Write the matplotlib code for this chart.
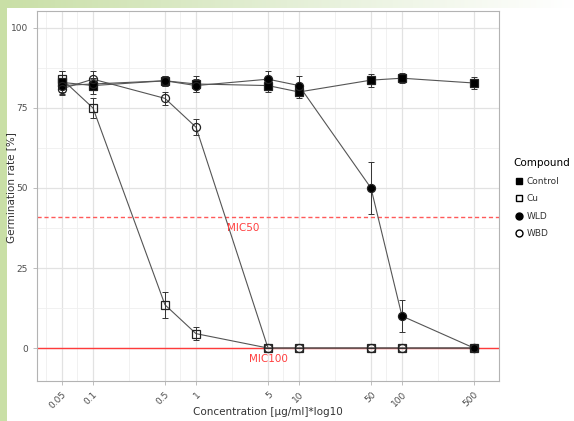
import numpy as np
import matplotlib
matplotlib.use('Agg')
import matplotlib.pyplot as plt
from matplotlib.patches import Rectangle
from matplotlib.lines import Line2D

# data
conc = [0.05, 0.1, 0.5, 1, 5, 10, 50, 100, 500]
tick_labels = ['0.05', '0.1', '0.5', '1', '5', '10', '50', '100', '500']

control = [83, 82, 83.5, 82.5, 82, 80, 83.7, 84.3, 82.8]
control_err = [3.5, 2.5, 1.5, 2.5, 2, 2, 2, 1.5, 2]
cu = [84, 75, 13.5, 4.5, 0, 0, 0, 0, 0]
cu_err = [2.5, 3, 4, 2, 0, 0, 0, 0, 0]
wld = [82, 82.5, 83.5, 82, 84, 82, 50, 10, 0]
wld_err = [2, 2, 1.5, 2, 2.5, 3, 8, 5, 0]
wbd = [81, 84, 78, 69, 0, 0, 0, 0, 0]
wbd_err = [2, 2.5, 2, 2.5, 0, 0, 0, 0, 0]

mic50 = 41
mic100 = 0

fig = plt.figure(figsize=(5.74, 4.21), dpi=100)
fig.patch.set_facecolor('white')

# slide background strips (green)
fig.patches.append(Rectangle((0, 0), 7/574, 1, transform=fig.transFigure,
                             facecolor='#c9dfa6', edgecolor='none', zorder=0))
grad = np.linspace(0, 1, 200).reshape(1, -1)
bg = fig.add_axes([0, 1 - 8/421, 1, 8/421], zorder=0)
bg.imshow(grad, aspect='auto', cmap=matplotlib.colors.LinearSegmentedColormap.from_list(
    'g', ['#c9dfa6', '#e4efd6', '#ffffff']), extent=[0, 1, 0, 1])
bg.axis('off')

ax = fig.add_axes([37/574, 40/421, 462/574, 370/421])
ax.set_xscale('log')
ax.set_xlim(0.0286, 875)
ax.set_ylim(-10.3, 105.3)

# grid: major + ggplot-style minor at log midpoints
logs = np.log10(conc)
minor_x = [10 ** ((logs[i] + logs[i + 1]) / 2) for i in range(len(logs) - 1)]
minor_x = [10 ** (logs[0] - (logs[1] - logs[0]) / 2)] + minor_x + [10 ** (logs[-1] + (logs[-1] - logs[-2]) / 2)]
for x in minor_x:
    ax.axvline(x, color='#efefef', lw=0.6, zorder=0)
for x in conc:
    ax.axvline(x, color='#e2e2e2', lw=0.9, zorder=0)
for y in [12.5, 37.5, 62.5, 87.5]:
    ax.axhline(y, color='#efefef', lw=0.6, zorder=0)
for y in [0, 25, 50, 75, 100]:
    ax.axhline(y, color='#e2e2e2', lw=0.9, zorder=0)

ax.set_xticks(conc)
ax.set_xticklabels(tick_labels, rotation=45, ha='right', rotation_mode='anchor')
ax.xaxis.set_minor_locator(matplotlib.ticker.NullLocator())
ax.set_yticks([0, 25, 50, 75, 100])
ax.tick_params(axis='both', labelsize=6.5, labelcolor='#4d4d4d', color='#b3b3b3',
               length=3, width=0.6)
for s in ax.spines.values():
    s.set_color('#b3b3b3')
    s.set_linewidth(0.8)

# reference lines
ax.axhline(mic50, color='#ff5a5a', lw=1.0, ls=(0, (3, 2)), zorder=1)
ax.axhline(mic100, color='#ff3b3b', lw=1.0, zorder=1)
ax.text(2.9, mic50 - 3.5, 'MIC50', color='#ff4040', fontsize=7.5, ha='center', va='center')
ax.text(5, mic100 - 3.3, 'MIC100', color='#ff4040', fontsize=7.5, ha='center', va='center')

series = [
    (control, control_err, 's', 'black', 'Control'),
    (cu, cu_err, 's', 'none', 'Cu'),
    (wld, wld_err, 'o', 'black', 'WLD'),
    (wbd, wbd_err, 'o', 'none', 'WBD'),
]
for vals, err, mk, fc, lab in series:
    ax.plot(conc, vals, color='#555555', lw=0.8, zorder=2)
    ax.errorbar(conc, vals, yerr=err, fmt='none', ecolor='#333333', elinewidth=0.7,
                capsize=2.2, capthick=0.7, zorder=3)
    ax.plot(conc, vals, ls='none', marker=mk, markersize=6 if mk == 's' else 5.8,
            markerfacecolor=fc, markeredgecolor='#222222', markeredgewidth=0.9, zorder=4)

fig.text(268/574, 1 - 412/421, 'Concentration [µg/ml]*log10', fontsize=7.5,
         color='#333333', ha='center', va='center')
fig.text(11/574, 1 - 188/421, 'Germination rate [%]', fontsize=7.5, color='#333333',
         ha='center', va='center', rotation=90)

handles = [
    Line2D([], [], ls='none', marker='s', markersize=5, markerfacecolor='black', markeredgecolor='black'),
    Line2D([], [], ls='none', marker='s', markersize=5, markerfacecolor='none', markeredgecolor='black'),
    Line2D([], [], ls='none', marker='o', markersize=5, markerfacecolor='black', markeredgecolor='black'),
    Line2D([], [], ls='none', marker='o', markersize=5, markerfacecolor='none', markeredgecolor='black'),
]
leg = fig.legend(handles, ['Control', 'Cu', 'WLD', 'WBD'], title='Compound',
                 loc='upper left', bbox_to_anchor=(505/574, 1 - 150/421), frameon=False,
                 fontsize=6.5, title_fontsize=7.5, handletextpad=0.3, labelspacing=0.95,
                 handlelength=1.2, alignment='left')
for t in leg.get_texts():
    t.set_color('#333333')

fig.savefig('out.png', dpi=100)
